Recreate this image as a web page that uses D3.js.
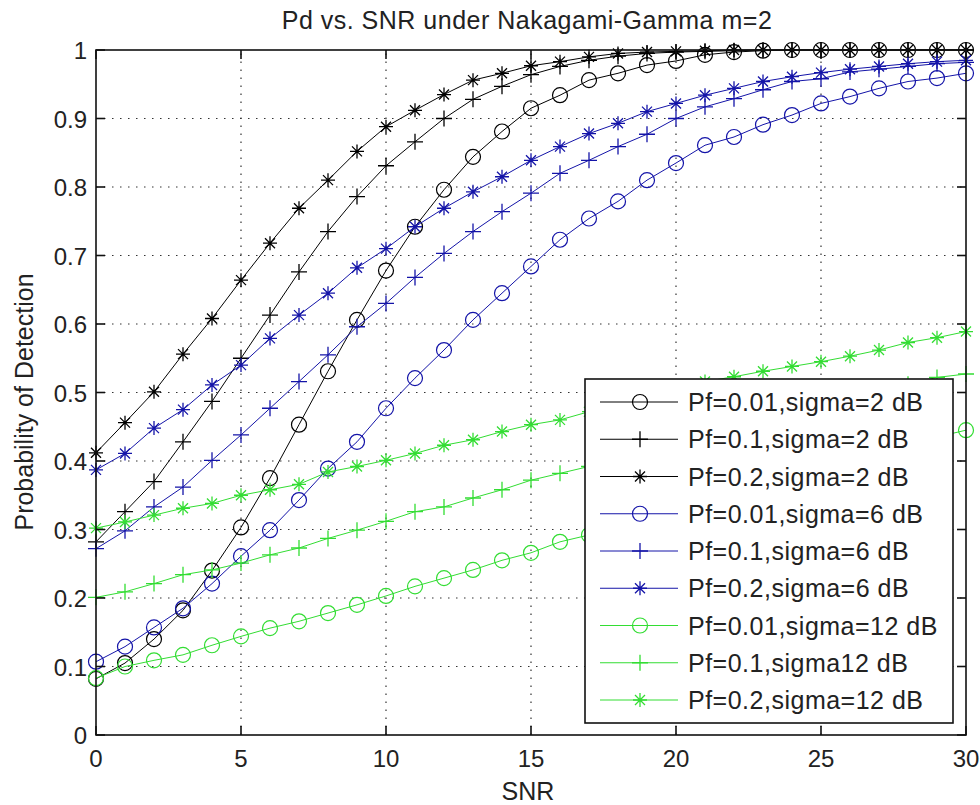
<!DOCTYPE html>
<html>
<head>
<meta charset="utf-8">
<script src="https://cdn.jsdelivr.net/npm/d3@7"></script>
<style>
  html, body { margin: 0; padding: 0; background: #fff; }
  svg { display: block; }
  text { font-family: "Liberation Sans", Arial, sans-serif; fill: #222; }
</style>
</head>
<body>
<svg id="chart"></svg>
<script>
//chart size
const width = 980, height = 805;

//x values (SNR in dB)
const snr = [0,1,2,3,4,5,6,7,8,9,10,11,12,13,14,15,16,17,18,19,20,21,22,23,24,25,26,27,28,29,30];

//sigma = 2 dB
const pf001s2 = [0.082,0.105,0.140,0.182,0.240,0.303,0.375,0.453,0.531,0.606,0.678,0.742,0.796,0.844,0.881,0.915,0.934,0.956,0.966,0.978,0.984,0.993,0.997,0.999,1,1,1,1,1,1,1];
const pf01s2  = [0.282,0.326,0.370,0.428,0.487,0.550,0.613,0.676,0.735,0.786,0.831,0.866,0.900,0.928,0.947,0.964,0.976,0.985,0.991,0.995,0.997,0.998,0.999,1,1,1,1,1,1,1,1];
const pf02s2  = [0.412,0.456,0.501,0.556,0.608,0.664,0.718,0.769,0.810,0.852,0.888,0.912,0.935,0.956,0.966,0.977,0.983,0.990,0.995,0.997,0.998,0.999,1,1,1,1,1,1,1,1,1];

//sigma = 6 dB
const pf001s6 = [0.107,0.129,0.157,0.185,0.221,0.261,0.299,0.343,0.389,0.428,0.477,0.521,0.562,0.606,0.645,0.684,0.723,0.754,0.779,0.810,0.835,0.861,0.873,0.891,0.905,0.922,0.932,0.944,0.954,0.959,0.966];
const pf01s6  = [0.272,0.298,0.333,0.362,0.401,0.438,0.477,0.516,0.555,0.596,0.630,0.668,0.703,0.735,0.764,0.791,0.820,0.839,0.859,0.877,0.900,0.917,0.929,0.942,0.954,0.958,0.968,0.972,0.976,0.980,0.982];
const pf02s6  = [0.387,0.411,0.448,0.475,0.511,0.540,0.579,0.613,0.645,0.682,0.710,0.742,0.769,0.793,0.815,0.839,0.859,0.878,0.893,0.910,0.922,0.934,0.944,0.954,0.961,0.967,0.972,0.976,0.980,0.983,0.985];

//sigma = 12 dB (values behind the legend are estimated)
const pf001s12 = [0.083,0.100,0.109,0.117,0.131,0.144,0.156,0.166,0.178,0.190,0.203,0.217,0.229,0.241,0.255,0.266,0.282,0.292,0.305,0.318,0.331,0.343,0.355,0.367,0.379,0.391,0.402,0.413,0.424,0.435,0.445];
const pf01s12  = [0.201,0.209,0.221,0.234,0.241,0.251,0.263,0.273,0.287,0.299,0.312,0.326,0.333,0.346,0.358,0.372,0.382,0.392,0.403,0.414,0.425,0.436,0.447,0.458,0.469,0.480,0.491,0.502,0.512,0.522,0.527];
const pf02s12  = [0.302,0.311,0.321,0.331,0.338,0.350,0.358,0.366,0.384,0.392,0.401,0.411,0.423,0.431,0.443,0.453,0.460,0.472,0.483,0.494,0.505,0.516,0.523,0.531,0.538,0.545,0.553,0.562,0.573,0.580,0.589];

//series labels, colours, markers
const labels = ["Pf=0.01,sigma=2 dB","Pf=0.1,sigma=2 dB","Pf=0.2,sigma=2 dB",
                "Pf=0.01,sigma=6 dB","Pf=0.1,sigma=6 dB","Pf=0.2,sigma=6 dB",
                "Pf=0.01,sigma=12 dB","Pf=0.1,sigma12 dB","Pf=0.2,sigma=12 dB"];
const colors = ["#000","#000","#000","#1414a8","#1414a8","#1414a8","#33dd33","#33dd33","#33dd33"];
const markers = ["o","+","*","o","+","*","o","+","*"];
const values = [pf001s2,pf01s2,pf02s2,pf001s6,pf01s6,pf02s6,pf001s12,pf01s12,pf02s12];

const xTicks = [0,5,10,15,20,25,30];
const yTicks = [0,0.1,0.2,0.3,0.4,0.5,0.6,0.7,0.8,0.9,1];

const margin = {top: 50, right: 14, bottom: 70, left: 96};

const svg = d3.select("#chart")
    .attr("width", width)
    .attr("height", height);

const x = d3.scaleLinear().domain([0, 30]).range([margin.left, width - margin.right]);
const y = d3.scaleLinear().domain([0, 1]).range([height - margin.bottom, margin.top]);

//grid (dotted)
const grid = svg.append("g").attr("stroke", "#333").attr("stroke-width", 1.2)
    .attr("stroke-dasharray", "1.5,6.5");
grid.selectAll(".gx").data(xTicks.slice(1, -1)).join("line")
    .attr("x1", d => x(d)).attr("x2", d => x(d))
    .attr("y1", y(0)).attr("y2", y(1));
grid.selectAll(".gy").data(yTicks.slice(1, -1)).join("line")
    .attr("y1", d => y(d)).attr("y2", d => y(d))
    .attr("x1", x(0)).attr("x2", x(30));

//marker drawing helper
function drawMarker(g, type, color) {
    if (type === "o") {
        g.append("circle").attr("r", 7.5).attr("fill", "none").attr("stroke", color).attr("stroke-width", 1.2);
    } else if (type === "+") {
        g.append("path").attr("d", "M-8,0H8M0,-8V8").attr("stroke", color).attr("stroke-width", 1.3);
    } else {
        g.append("path").attr("d", "M-7,0H7M0,-7V7M-5,-5L5,5M-5,5L5,-5").attr("stroke", color).attr("stroke-width", 1.3);
    }
}

//series lines + markers
const line = d3.line().x((d, i) => x(snr[i])).y(d => y(d));
values.forEach((vals, s) => {
    const g = svg.append("g");
    g.append("path").datum(vals)
        .attr("d", line)
        .attr("fill", "none")
        .attr("stroke", colors[s])
        .attr("stroke-width", 1);
    vals.forEach((v, i) => {
        const m = g.append("g").attr("transform", `translate(${x(snr[i])},${y(v)})`);
        drawMarker(m, markers[s], colors[s]);
    });
});

//axes box
svg.append("rect")
    .attr("x", x(0)).attr("y", y(1))
    .attr("width", x(30) - x(0)).attr("height", y(0) - y(1))
    .attr("fill", "none").attr("stroke", "#111").attr("stroke-width", 1.6);

//inner ticks on all four sides
const ticks = svg.append("g").attr("stroke", "#111").attr("stroke-width", 1.6);
xTicks.forEach(t => {
    ticks.append("line").attr("x1", x(t)).attr("x2", x(t)).attr("y1", y(0)).attr("y2", y(0) - 9);
    ticks.append("line").attr("x1", x(t)).attr("x2", x(t)).attr("y1", y(1)).attr("y2", y(1) + 9);
});
yTicks.forEach(t => {
    ticks.append("line").attr("y1", y(t)).attr("y2", y(t)).attr("x1", x(0)).attr("x2", x(0) + 9);
    ticks.append("line").attr("y1", y(t)).attr("y2", y(t)).attr("x1", x(30)).attr("x2", x(30) - 9);
});

//tick labels
svg.selectAll(".xl").data(xTicks).join("text")
    .attr("x", d => x(d)).attr("y", y(0) + 32)
    .attr("text-anchor", "middle").attr("font-size", 24)
    .text(d => d);
svg.selectAll(".yl").data(yTicks).join("text")
    .attr("x", x(0) - 9).attr("y", d => y(d) + 9)
    .attr("text-anchor", "end").attr("font-size", 24)
    .text(d => d);

//title and axis labels
svg.append("text").attr("x", 527).attr("y", 29)
    .attr("text-anchor", "middle").attr("font-size", 25)
    .attr("letter-spacing", 0.5)
    .text("Pd vs. SNR under Nakagami-Gamma m=2");
svg.append("text").attr("x", 528).attr("y", 800)
    .attr("text-anchor", "middle").attr("font-size", 25)
    .text("SNR");
svg.append("text")
    .attr("transform", "translate(33,402) rotate(-90)")
    .attr("text-anchor", "middle").attr("font-size", 25)
    .text("Probability of Detection");

//legend
const legend = svg.append("g");
legend.append("rect")
    .attr("x", 585).attr("y", 379).attr("width", 368).attr("height", 344)
    .attr("fill", "#fff").attr("stroke", "#111").attr("stroke-width", 1.6);
labels.forEach((lab, s) => {
    const ly = 402 + s * 37.25;
    legend.append("line").attr("x1", 600).attr("x2", 678).attr("y1", ly).attr("y2", ly)
        .attr("stroke", colors[s]).attr("stroke-width", 1);
    const m = legend.append("g").attr("transform", `translate(640,${ly})`);
    drawMarker(m, markers[s], colors[s]);
    legend.append("text").attr("x", 688).attr("y", ly + 9)
        .attr("font-size", 25).attr("letter-spacing", 0.5).text(lab);
});
</script>
</body>
</html>
